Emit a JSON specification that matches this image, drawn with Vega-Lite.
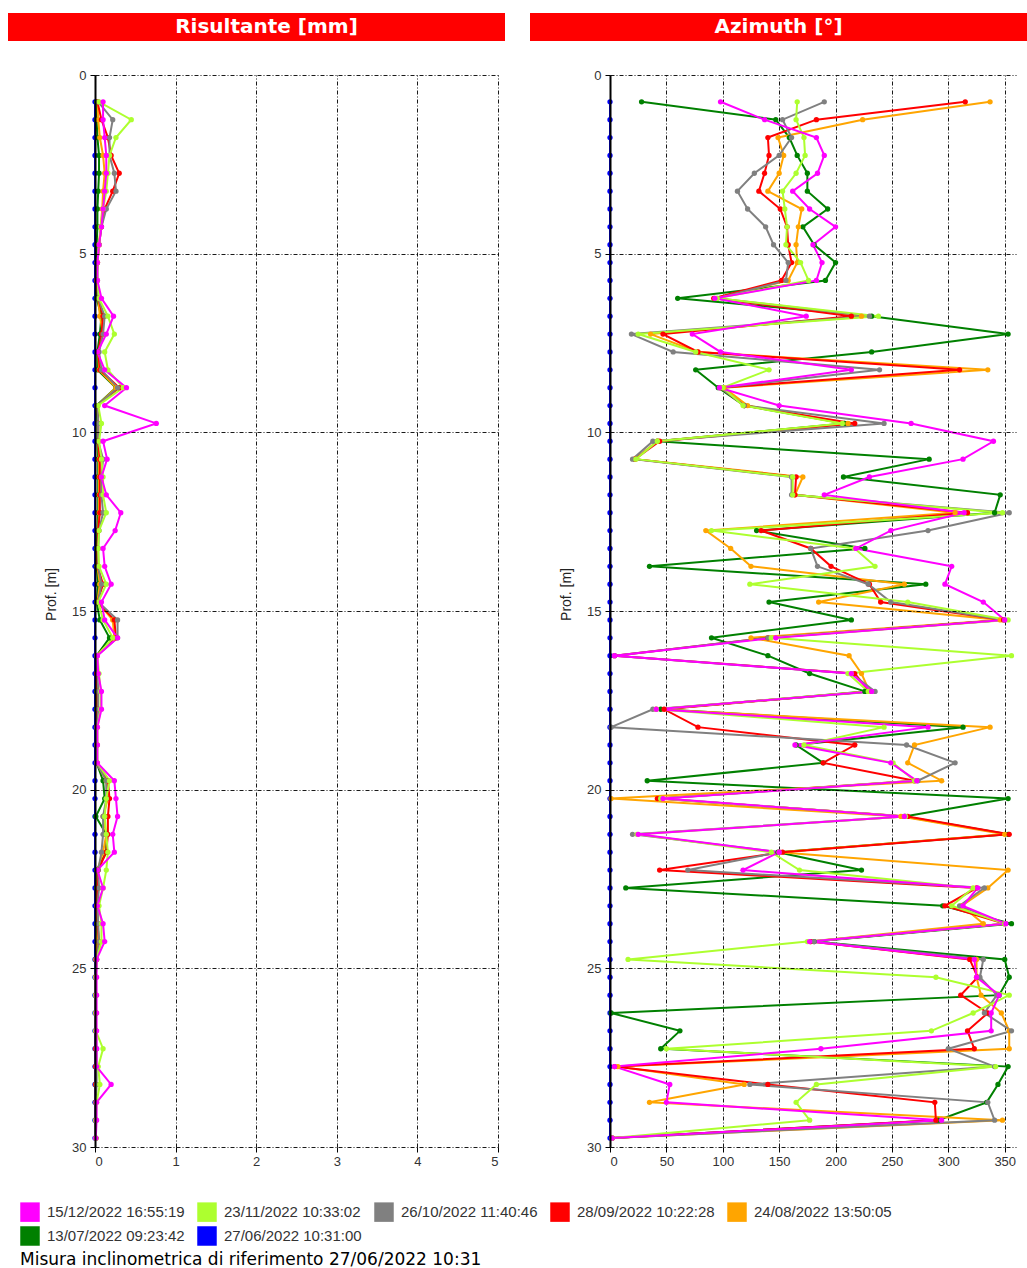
{
"$schema":"https://vega.github.io/schema/vega-lite/v6.json",
"padding":{"left":8,"top":13,"right":0,"bottom":0},
"background":"white",
"config":{
 "view":{"stroke":null},
 "axis":{"grid":true,"gridColor":"#000","gridDash":[4,2,1,2],"gridWidth":1,"gridOpacity":0.9,"tickColor":"#000","tickSize":5,"labelFont":"Liberation Sans","labelFontSize":13,"labelColor":"#333","labelPadding":3,"titleFont":"Liberation Sans","titleFontSize":14,"titleFontWeight":"normal","titleColor":"#222","titlePadding":13,"domainColor":"#000"},
 "axisX":{"domain":false},
 "axisY":{"domain":true,"domainWidth":2,"labelPadding":4},
 "legend":{"symbolOpacity":1}
},
"datasets":{"incl":[
{"s":"27/06/2022 10:31:00","d":0.75,"r":0,"a":0},{"s":"27/06/2022 10:31:00","d":1.25,"r":0,"a":0},{"s":"27/06/2022 10:31:00","d":1.75,"r":0,"a":0},{"s":"27/06/2022 10:31:00","d":2.25,"r":0,"a":0},{"s":"27/06/2022 10:31:00","d":2.75,"r":0,"a":0},{"s":"27/06/2022 10:31:00","d":3.25,"r":0,"a":0},{"s":"27/06/2022 10:31:00","d":3.75,"r":0,"a":0},{"s":"27/06/2022 10:31:00","d":4.25,"r":0,"a":0},{"s":"27/06/2022 10:31:00","d":4.75,"r":0,"a":0},{"s":"27/06/2022 10:31:00","d":5.25,"r":0,"a":0},{"s":"27/06/2022 10:31:00","d":5.75,"r":0,"a":0},{"s":"27/06/2022 10:31:00","d":6.25,"r":0,"a":0},{"s":"27/06/2022 10:31:00","d":6.75,"r":0,"a":0},{"s":"27/06/2022 10:31:00","d":7.25,"r":0,"a":0},{"s":"27/06/2022 10:31:00","d":7.75,"r":0,"a":0},{"s":"27/06/2022 10:31:00","d":8.25,"r":0,"a":0},{"s":"27/06/2022 10:31:00","d":8.75,"r":0,"a":0},{"s":"27/06/2022 10:31:00","d":9.25,"r":0,"a":0},{"s":"27/06/2022 10:31:00","d":9.75,"r":0,"a":0},{"s":"27/06/2022 10:31:00","d":10.25,"r":0,"a":0},{"s":"27/06/2022 10:31:00","d":10.75,"r":0,"a":0},{"s":"27/06/2022 10:31:00","d":11.25,"r":0,"a":0},{"s":"27/06/2022 10:31:00","d":11.75,"r":0,"a":0},{"s":"27/06/2022 10:31:00","d":12.25,"r":0,"a":0},{"s":"27/06/2022 10:31:00","d":12.75,"r":0,"a":0},{"s":"27/06/2022 10:31:00","d":13.25,"r":0,"a":0},{"s":"27/06/2022 10:31:00","d":13.75,"r":0,"a":0},{"s":"27/06/2022 10:31:00","d":14.25,"r":0,"a":0},{"s":"27/06/2022 10:31:00","d":14.75,"r":0,"a":0},{"s":"27/06/2022 10:31:00","d":15.25,"r":0,"a":0},{"s":"27/06/2022 10:31:00","d":15.75,"r":0,"a":0},{"s":"27/06/2022 10:31:00","d":16.25,"r":0,"a":0},{"s":"27/06/2022 10:31:00","d":16.75,"r":0,"a":0},{"s":"27/06/2022 10:31:00","d":17.25,"r":0,"a":0},{"s":"27/06/2022 10:31:00","d":17.75,"r":0,"a":0},{"s":"27/06/2022 10:31:00","d":18.25,"r":0,"a":0},{"s":"27/06/2022 10:31:00","d":18.75,"r":0,"a":0},{"s":"27/06/2022 10:31:00","d":19.25,"r":0,"a":0},{"s":"27/06/2022 10:31:00","d":19.75,"r":0,"a":0},{"s":"27/06/2022 10:31:00","d":20.25,"r":0,"a":0},{"s":"27/06/2022 10:31:00","d":20.75,"r":0,"a":0},{"s":"27/06/2022 10:31:00","d":21.25,"r":0,"a":0},{"s":"27/06/2022 10:31:00","d":21.75,"r":0,"a":0},{"s":"27/06/2022 10:31:00","d":22.25,"r":0,"a":0},{"s":"27/06/2022 10:31:00","d":22.75,"r":0,"a":0},{"s":"27/06/2022 10:31:00","d":23.25,"r":0,"a":0},{"s":"27/06/2022 10:31:00","d":23.75,"r":0,"a":0},{"s":"27/06/2022 10:31:00","d":24.25,"r":0,"a":0},{"s":"27/06/2022 10:31:00","d":24.75,"r":0,"a":0},{"s":"27/06/2022 10:31:00","d":25.25,"r":0,"a":0},{"s":"27/06/2022 10:31:00","d":25.75,"r":0,"a":0},{"s":"27/06/2022 10:31:00","d":26.25,"r":0,"a":0},{"s":"27/06/2022 10:31:00","d":26.75,"r":0,"a":0},{"s":"27/06/2022 10:31:00","d":27.25,"r":0,"a":0},{"s":"27/06/2022 10:31:00","d":27.75,"r":0,"a":0},{"s":"27/06/2022 10:31:00","d":28.25,"r":0,"a":0},{"s":"27/06/2022 10:31:00","d":28.75,"r":0,"a":0},{"s":"27/06/2022 10:31:00","d":29.25,"r":0,"a":0},{"s":"27/06/2022 10:31:00","d":29.75,"r":0,"a":0},
{"s":"13/07/2022 09:23:42","d":0.75,"r":0.02,"a":28},{"s":"13/07/2022 09:23:42","d":1.25,"r":0.02,"a":147},{"s":"13/07/2022 09:23:42","d":1.75,"r":0.03,"a":159},{"s":"13/07/2022 09:23:42","d":2.25,"r":0.05,"a":166},{"s":"13/07/2022 09:23:42","d":2.75,"r":0.05,"a":175},{"s":"13/07/2022 09:23:42","d":3.25,"r":0.04,"a":175},{"s":"13/07/2022 09:23:42","d":3.75,"r":0.03,"a":193},{"s":"13/07/2022 09:23:42","d":4.25,"r":0.03,"a":171},{"s":"13/07/2022 09:23:42","d":4.75,"r":0.02,"a":181},{"s":"13/07/2022 09:23:42","d":5.25,"r":0.02,"a":200},{"s":"13/07/2022 09:23:42","d":5.75,"r":0.02,"a":191},{"s":"13/07/2022 09:23:42","d":6.25,"r":0.02,"a":60},{"s":"13/07/2022 09:23:42","d":6.75,"r":0.08,"a":232},{"s":"13/07/2022 09:23:42","d":7.25,"r":0.06,"a":353},{"s":"13/07/2022 09:23:42","d":7.75,"r":0.03,"a":232},{"s":"13/07/2022 09:23:42","d":8.25,"r":0.03,"a":76},{"s":"13/07/2022 09:23:42","d":8.75,"r":0.26,"a":96},{"s":"13/07/2022 09:23:42","d":9.25,"r":0.02,"a":119},{"s":"13/07/2022 09:23:42","d":9.75,"r":0.03,"a":208},{"s":"13/07/2022 09:23:42","d":10.25,"r":0.03,"a":42},{"s":"13/07/2022 09:23:42","d":10.75,"r":0.04,"a":283},{"s":"13/07/2022 09:23:42","d":11.25,"r":0.04,"a":207},{"s":"13/07/2022 09:23:42","d":11.75,"r":0.04,"a":346},{"s":"13/07/2022 09:23:42","d":12.25,"r":0.04,"a":341},{"s":"13/07/2022 09:23:42","d":12.75,"r":0.03,"a":130},{"s":"13/07/2022 09:23:42","d":13.25,"r":0.02,"a":226},{"s":"13/07/2022 09:23:42","d":13.75,"r":0.02,"a":35},{"s":"13/07/2022 09:23:42","d":14.25,"r":0.04,"a":280},{"s":"13/07/2022 09:23:42","d":14.75,"r":0.02,"a":141},{"s":"13/07/2022 09:23:42","d":15.25,"r":0.06,"a":214},{"s":"13/07/2022 09:23:42","d":15.75,"r":0.18,"a":90},{"s":"13/07/2022 09:23:42","d":16.25,"r":0.02,"a":140},{"s":"13/07/2022 09:23:42","d":16.75,"r":0.02,"a":177},{"s":"13/07/2022 09:23:42","d":17.25,"r":0.02,"a":226},{"s":"13/07/2022 09:23:42","d":17.75,"r":0.02,"a":45},{"s":"13/07/2022 09:23:42","d":18.25,"r":0.02,"a":313},{"s":"13/07/2022 09:23:42","d":18.75,"r":0.02,"a":165},{"s":"13/07/2022 09:23:42","d":19.25,"r":0.02,"a":189},{"s":"13/07/2022 09:23:42","d":19.75,"r":0.1,"a":33},{"s":"13/07/2022 09:23:42","d":20.25,"r":0.12,"a":353},{"s":"13/07/2022 09:23:42","d":20.75,"r":0.01,"a":261},{"s":"13/07/2022 09:23:42","d":21.25,"r":0.14,"a":353},{"s":"13/07/2022 09:23:42","d":21.75,"r":0.14,"a":149},{"s":"13/07/2022 09:23:42","d":22.25,"r":0.02,"a":223},{"s":"13/07/2022 09:23:42","d":22.75,"r":0.02,"a":14},{"s":"13/07/2022 09:23:42","d":23.25,"r":0.02,"a":295},{"s":"13/07/2022 09:23:42","d":23.75,"r":0.02,"a":356},{"s":"13/07/2022 09:23:42","d":24.25,"r":0.03,"a":181},{"s":"13/07/2022 09:23:42","d":24.75,"r":0.01,"a":350},{"s":"13/07/2022 09:23:42","d":25.25,"r":0.01,"a":354},{"s":"13/07/2022 09:23:42","d":25.75,"r":0.01,"a":345},{"s":"13/07/2022 09:23:42","d":26.25,"r":0.01,"a":1},{"s":"13/07/2022 09:23:42","d":26.75,"r":0.01,"a":62},{"s":"13/07/2022 09:23:42","d":27.25,"r":0.01,"a":45},{"s":"13/07/2022 09:23:42","d":27.75,"r":0.01,"a":353},{"s":"13/07/2022 09:23:42","d":28.25,"r":0.01,"a":344},{"s":"13/07/2022 09:23:42","d":28.75,"r":0.01,"a":334},{"s":"13/07/2022 09:23:42","d":29.25,"r":0.01,"a":291},{"s":"13/07/2022 09:23:42","d":29.75,"r":0.01,"a":2},
{"s":"24/08/2022 13:50:05","d":0.75,"r":0.03,"a":337},{"s":"24/08/2022 13:50:05","d":1.25,"r":0.04,"a":224},{"s":"24/08/2022 13:50:05","d":1.75,"r":0.06,"a":149},{"s":"24/08/2022 13:50:05","d":2.25,"r":0.1,"a":154},{"s":"24/08/2022 13:50:05","d":2.75,"r":0.12,"a":150},{"s":"24/08/2022 13:50:05","d":3.25,"r":0.1,"a":140},{"s":"24/08/2022 13:50:05","d":3.75,"r":0.09,"a":170},{"s":"24/08/2022 13:50:05","d":4.25,"r":0.07,"a":167},{"s":"24/08/2022 13:50:05","d":4.75,"r":0.05,"a":165},{"s":"24/08/2022 13:50:05","d":5.25,"r":0.03,"a":166},{"s":"24/08/2022 13:50:05","d":5.75,"r":0.02,"a":158},{"s":"24/08/2022 13:50:05","d":6.25,"r":0.04,"a":93},{"s":"24/08/2022 13:50:05","d":6.75,"r":0.06,"a":223},{"s":"24/08/2022 13:50:05","d":7.25,"r":0.1,"a":36},{"s":"24/08/2022 13:50:05","d":7.75,"r":0.04,"a":78},{"s":"24/08/2022 13:50:05","d":8.25,"r":0.05,"a":335},{"s":"24/08/2022 13:50:05","d":8.75,"r":0.26,"a":101},{"s":"24/08/2022 13:50:05","d":9.25,"r":0.03,"a":122},{"s":"24/08/2022 13:50:05","d":9.75,"r":0.04,"a":211},{"s":"24/08/2022 13:50:05","d":10.25,"r":0.04,"a":42},{"s":"24/08/2022 13:50:05","d":10.75,"r":0.05,"a":22},{"s":"24/08/2022 13:50:05","d":11.25,"r":0.05,"a":171},{"s":"24/08/2022 13:50:05","d":11.75,"r":0.05,"a":164},{"s":"24/08/2022 13:50:05","d":12.25,"r":0.05,"a":306},{"s":"24/08/2022 13:50:05","d":12.75,"r":0.04,"a":85},{"s":"24/08/2022 13:50:05","d":13.25,"r":0.03,"a":107},{"s":"24/08/2022 13:50:05","d":13.75,"r":0.03,"a":125},{"s":"24/08/2022 13:50:05","d":14.25,"r":0.06,"a":261},{"s":"24/08/2022 13:50:05","d":14.75,"r":0.03,"a":185},{"s":"24/08/2022 13:50:05","d":15.25,"r":0.22,"a":346},{"s":"24/08/2022 13:50:05","d":15.75,"r":0.24,"a":125},{"s":"24/08/2022 13:50:05","d":16.25,"r":0.02,"a":212},{"s":"24/08/2022 13:50:05","d":16.75,"r":0.02,"a":223},{"s":"24/08/2022 13:50:05","d":17.25,"r":0.03,"a":230},{"s":"24/08/2022 13:50:05","d":17.75,"r":0.03,"a":41},{"s":"24/08/2022 13:50:05","d":18.25,"r":0.02,"a":337},{"s":"24/08/2022 13:50:05","d":18.75,"r":0.02,"a":270},{"s":"24/08/2022 13:50:05","d":19.25,"r":0.02,"a":264},{"s":"24/08/2022 13:50:05","d":19.75,"r":0.14,"a":294},{"s":"24/08/2022 13:50:05","d":20.25,"r":0.16,"a":1},{"s":"24/08/2022 13:50:05","d":20.75,"r":0.1,"a":258},{"s":"24/08/2022 13:50:05","d":21.25,"r":0.14,"a":350},{"s":"24/08/2022 13:50:05","d":21.75,"r":0.1,"a":150},{"s":"24/08/2022 13:50:05","d":22.25,"r":0.03,"a":353},{"s":"24/08/2022 13:50:05","d":22.75,"r":0.03,"a":335},{"s":"24/08/2022 13:50:05","d":23.25,"r":0.02,"a":312},{"s":"24/08/2022 13:50:05","d":23.75,"r":0.03,"a":331},{"s":"24/08/2022 13:50:05","d":24.25,"r":0.03,"a":178},{"s":"24/08/2022 13:50:05","d":24.75,"r":0.01,"a":325},{"s":"24/08/2022 13:50:05","d":25.25,"r":0.01,"a":325},{"s":"24/08/2022 13:50:05","d":25.75,"r":0.01,"a":329},{"s":"24/08/2022 13:50:05","d":26.25,"r":0.01,"a":347},{"s":"24/08/2022 13:50:05","d":26.75,"r":0.01,"a":354},{"s":"24/08/2022 13:50:05","d":27.25,"r":0.01,"a":354},{"s":"24/08/2022 13:50:05","d":27.75,"r":0.01,"a":7},{"s":"24/08/2022 13:50:05","d":28.25,"r":0.01,"a":119},{"s":"24/08/2022 13:50:05","d":28.75,"r":0.01,"a":35},{"s":"24/08/2022 13:50:05","d":29.25,"r":0.01,"a":348},{"s":"24/08/2022 13:50:05","d":29.75,"r":0.01,"a":2},
{"s":"28/09/2022 10:22:28","d":0.75,"r":0.03,"a":315},{"s":"28/09/2022 10:22:28","d":1.25,"r":0.08,"a":183},{"s":"28/09/2022 10:22:28","d":1.75,"r":0.16,"a":140},{"s":"28/09/2022 10:22:28","d":2.25,"r":0.2,"a":141},{"s":"28/09/2022 10:22:28","d":2.75,"r":0.3,"a":137},{"s":"28/09/2022 10:22:28","d":3.25,"r":0.22,"a":132},{"s":"28/09/2022 10:22:28","d":3.75,"r":0.12,"a":151},{"s":"28/09/2022 10:22:28","d":4.25,"r":0.08,"a":157},{"s":"28/09/2022 10:22:28","d":4.75,"r":0.05,"a":158},{"s":"28/09/2022 10:22:28","d":5.25,"r":0.03,"a":161},{"s":"28/09/2022 10:22:28","d":5.75,"r":0.02,"a":152},{"s":"28/09/2022 10:22:28","d":6.25,"r":0.04,"a":92},{"s":"28/09/2022 10:22:28","d":6.75,"r":0.1,"a":214},{"s":"28/09/2022 10:22:28","d":7.25,"r":0.08,"a":47},{"s":"28/09/2022 10:22:28","d":7.75,"r":0.04,"a":78},{"s":"28/09/2022 10:22:28","d":8.25,"r":0.06,"a":310},{"s":"28/09/2022 10:22:28","d":8.75,"r":0.3,"a":98},{"s":"28/09/2022 10:22:28","d":9.25,"r":0.03,"a":119},{"s":"28/09/2022 10:22:28","d":9.75,"r":0.04,"a":217},{"s":"28/09/2022 10:22:28","d":10.25,"r":0.04,"a":44},{"s":"28/09/2022 10:22:28","d":10.75,"r":0.06,"a":22},{"s":"28/09/2022 10:22:28","d":11.25,"r":0.06,"a":165},{"s":"28/09/2022 10:22:28","d":11.75,"r":0.06,"a":164},{"s":"28/09/2022 10:22:28","d":12.25,"r":0.06,"a":317},{"s":"28/09/2022 10:22:28","d":12.75,"r":0.04,"a":134},{"s":"28/09/2022 10:22:28","d":13.25,"r":0.03,"a":178},{"s":"28/09/2022 10:22:28","d":13.75,"r":0.03,"a":196},{"s":"28/09/2022 10:22:28","d":14.25,"r":0.1,"a":230},{"s":"28/09/2022 10:22:28","d":14.75,"r":0.03,"a":240},{"s":"28/09/2022 10:22:28","d":15.25,"r":0.24,"a":349},{"s":"28/09/2022 10:22:28","d":15.75,"r":0.26,"a":140},{"s":"28/09/2022 10:22:28","d":16.25,"r":0.02,"a":4},{"s":"28/09/2022 10:22:28","d":16.75,"r":0.02,"a":217},{"s":"28/09/2022 10:22:28","d":17.25,"r":0.03,"a":230},{"s":"28/09/2022 10:22:28","d":17.75,"r":0.03,"a":48},{"s":"28/09/2022 10:22:28","d":18.25,"r":0.02,"a":78},{"s":"28/09/2022 10:22:28","d":18.75,"r":0.02,"a":217},{"s":"28/09/2022 10:22:28","d":19.25,"r":0.02,"a":189},{"s":"28/09/2022 10:22:28","d":19.75,"r":0.16,"a":270},{"s":"28/09/2022 10:22:28","d":20.25,"r":0.18,"a":42},{"s":"28/09/2022 10:22:28","d":20.75,"r":0.16,"a":264},{"s":"28/09/2022 10:22:28","d":21.25,"r":0.16,"a":354},{"s":"28/09/2022 10:22:28","d":21.75,"r":0.14,"a":153},{"s":"28/09/2022 10:22:28","d":22.25,"r":0.04,"a":44},{"s":"28/09/2022 10:22:28","d":22.75,"r":0.03,"a":325},{"s":"28/09/2022 10:22:28","d":23.25,"r":0.03,"a":297},{"s":"28/09/2022 10:22:28","d":23.75,"r":0.03,"a":350},{"s":"28/09/2022 10:22:28","d":24.25,"r":0.05,"a":178},{"s":"28/09/2022 10:22:28","d":24.75,"r":0.02,"a":319},{"s":"28/09/2022 10:22:28","d":25.25,"r":0.01,"a":326},{"s":"28/09/2022 10:22:28","d":25.75,"r":0.01,"a":311},{"s":"28/09/2022 10:22:28","d":26.25,"r":0.01,"a":335},{"s":"28/09/2022 10:22:28","d":26.75,"r":0.01,"a":317},{"s":"28/09/2022 10:22:28","d":27.25,"r":0.01,"a":323},{"s":"28/09/2022 10:22:28","d":27.75,"r":0.01,"a":4},{"s":"28/09/2022 10:22:28","d":28.25,"r":0.01,"a":140},{"s":"28/09/2022 10:22:28","d":28.75,"r":0.01,"a":288},{"s":"28/09/2022 10:22:28","d":29.25,"r":0.01,"a":289},{"s":"28/09/2022 10:22:28","d":29.75,"r":0.01,"a":2},
{"s":"26/10/2022 11:40:46","d":0.75,"r":0.04,"a":190},{"s":"26/10/2022 11:40:46","d":1.25,"r":0.22,"a":153},{"s":"26/10/2022 11:40:46","d":1.75,"r":0.18,"a":161},{"s":"26/10/2022 11:40:46","d":2.25,"r":0.18,"a":150},{"s":"26/10/2022 11:40:46","d":2.75,"r":0.24,"a":128},{"s":"26/10/2022 11:40:46","d":3.25,"r":0.26,"a":113},{"s":"26/10/2022 11:40:46","d":3.75,"r":0.14,"a":122},{"s":"26/10/2022 11:40:46","d":4.25,"r":0.08,"a":138},{"s":"26/10/2022 11:40:46","d":4.75,"r":0.05,"a":145},{"s":"26/10/2022 11:40:46","d":5.25,"r":0.03,"a":158},{"s":"26/10/2022 11:40:46","d":5.75,"r":0.03,"a":156},{"s":"26/10/2022 11:40:46","d":6.25,"r":0.04,"a":95},{"s":"26/10/2022 11:40:46","d":6.75,"r":0.12,"a":230},{"s":"26/10/2022 11:40:46","d":7.25,"r":0.1,"a":19},{"s":"26/10/2022 11:40:46","d":7.75,"r":0.05,"a":56},{"s":"26/10/2022 11:40:46","d":8.25,"r":0.08,"a":239},{"s":"26/10/2022 11:40:46","d":8.75,"r":0.28,"a":98},{"s":"26/10/2022 11:40:46","d":9.25,"r":0.03,"a":119},{"s":"26/10/2022 11:40:46","d":9.75,"r":0.04,"a":243},{"s":"26/10/2022 11:40:46","d":10.25,"r":0.04,"a":38},{"s":"26/10/2022 11:40:46","d":10.75,"r":0.1,"a":20},{"s":"26/10/2022 11:40:46","d":11.25,"r":0.08,"a":161},{"s":"26/10/2022 11:40:46","d":11.75,"r":0.08,"a":161},{"s":"26/10/2022 11:40:46","d":12.25,"r":0.1,"a":354},{"s":"26/10/2022 11:40:46","d":12.75,"r":0.05,"a":282},{"s":"26/10/2022 11:40:46","d":13.25,"r":0.04,"a":178},{"s":"26/10/2022 11:40:46","d":13.75,"r":0.04,"a":184},{"s":"26/10/2022 11:40:46","d":14.25,"r":0.08,"a":229},{"s":"26/10/2022 11:40:46","d":14.75,"r":0.04,"a":249},{"s":"26/10/2022 11:40:46","d":15.25,"r":0.28,"a":350},{"s":"26/10/2022 11:40:46","d":15.75,"r":0.28,"a":140},{"s":"26/10/2022 11:40:46","d":16.25,"r":0.02,"a":4},{"s":"26/10/2022 11:40:46","d":16.75,"r":0.03,"a":214},{"s":"26/10/2022 11:40:46","d":17.25,"r":0.04,"a":235},{"s":"26/10/2022 11:40:46","d":17.75,"r":0.04,"a":38},{"s":"26/10/2022 11:40:46","d":18.25,"r":0.02,"a":1},{"s":"26/10/2022 11:40:46","d":18.75,"r":0.02,"a":263},{"s":"26/10/2022 11:40:46","d":19.25,"r":0.02,"a":306},{"s":"26/10/2022 11:40:46","d":19.75,"r":0.14,"a":273},{"s":"26/10/2022 11:40:46","d":20.25,"r":0.14,"a":45},{"s":"26/10/2022 11:40:46","d":20.75,"r":0.1,"a":262},{"s":"26/10/2022 11:40:46","d":21.25,"r":0.1,"a":20},{"s":"26/10/2022 11:40:46","d":21.75,"r":0.08,"a":150},{"s":"26/10/2022 11:40:46","d":22.25,"r":0.04,"a":69},{"s":"26/10/2022 11:40:46","d":22.75,"r":0.05,"a":332},{"s":"26/10/2022 11:40:46","d":23.25,"r":0.03,"a":310},{"s":"26/10/2022 11:40:46","d":23.75,"r":0.04,"a":350},{"s":"26/10/2022 11:40:46","d":24.25,"r":0.05,"a":181},{"s":"26/10/2022 11:40:46","d":24.75,"r":0.02,"a":331},{"s":"26/10/2022 11:40:46","d":25.25,"r":0.01,"a":328},{"s":"26/10/2022 11:40:46","d":25.75,"r":0.01,"a":343},{"s":"26/10/2022 11:40:46","d":26.25,"r":0.01,"a":332},{"s":"26/10/2022 11:40:46","d":26.75,"r":0.01,"a":356},{"s":"26/10/2022 11:40:46","d":27.25,"r":0.02,"a":300},{"s":"26/10/2022 11:40:46","d":27.75,"r":0.02,"a":341},{"s":"26/10/2022 11:40:46","d":28.25,"r":0.02,"a":124},{"s":"26/10/2022 11:40:46","d":28.75,"r":0.01,"a":335},{"s":"26/10/2022 11:40:46","d":29.25,"r":0.01,"a":341},{"s":"26/10/2022 11:40:46","d":29.75,"r":0.01,"a":2},
{"s":"23/11/2022 10:33:02","d":0.75,"r":0.05,"a":166},{"s":"23/11/2022 10:33:02","d":1.25,"r":0.45,"a":165},{"s":"23/11/2022 10:33:02","d":1.75,"r":0.26,"a":172},{"s":"23/11/2022 10:33:02","d":2.25,"r":0.18,"a":173},{"s":"23/11/2022 10:33:02","d":2.75,"r":0.16,"a":165},{"s":"23/11/2022 10:33:02","d":3.25,"r":0.14,"a":153},{"s":"23/11/2022 10:33:02","d":3.75,"r":0.1,"a":155},{"s":"23/11/2022 10:33:02","d":4.25,"r":0.07,"a":157},{"s":"23/11/2022 10:33:02","d":4.75,"r":0.05,"a":156},{"s":"23/11/2022 10:33:02","d":5.25,"r":0.03,"a":169},{"s":"23/11/2022 10:33:02","d":5.75,"r":0.03,"a":176},{"s":"23/11/2022 10:33:02","d":6.25,"r":0.05,"a":95},{"s":"23/11/2022 10:33:02","d":6.75,"r":0.16,"a":238},{"s":"23/11/2022 10:33:02","d":7.25,"r":0.24,"a":25},{"s":"23/11/2022 10:33:02","d":7.75,"r":0.12,"a":76},{"s":"23/11/2022 10:33:02","d":8.25,"r":0.16,"a":141},{"s":"23/11/2022 10:33:02","d":8.75,"r":0.35,"a":100},{"s":"23/11/2022 10:33:02","d":9.25,"r":0.04,"a":118},{"s":"23/11/2022 10:33:02","d":9.75,"r":0.08,"a":206},{"s":"23/11/2022 10:33:02","d":10.25,"r":0.05,"a":42},{"s":"23/11/2022 10:33:02","d":10.75,"r":0.08,"a":23},{"s":"23/11/2022 10:33:02","d":11.25,"r":0.1,"a":162},{"s":"23/11/2022 10:33:02","d":11.75,"r":0.1,"a":162},{"s":"23/11/2022 10:33:02","d":12.25,"r":0.14,"a":348},{"s":"23/11/2022 10:33:02","d":12.75,"r":0.05,"a":90},{"s":"23/11/2022 10:33:02","d":13.25,"r":0.04,"a":217},{"s":"23/11/2022 10:33:02","d":13.75,"r":0.05,"a":235},{"s":"23/11/2022 10:33:02","d":14.25,"r":0.14,"a":124},{"s":"23/11/2022 10:33:02","d":14.75,"r":0.04,"a":264},{"s":"23/11/2022 10:33:02","d":15.25,"r":0.1,"a":353},{"s":"23/11/2022 10:33:02","d":15.75,"r":0.22,"a":143},{"s":"23/11/2022 10:33:02","d":16.25,"r":0.03,"a":356},{"s":"23/11/2022 10:33:02","d":16.75,"r":0.05,"a":211},{"s":"23/11/2022 10:33:02","d":17.25,"r":0.07,"a":229},{"s":"23/11/2022 10:33:02","d":17.75,"r":0.07,"a":41},{"s":"23/11/2022 10:33:02","d":18.25,"r":0.03,"a":243},{"s":"23/11/2022 10:33:02","d":18.75,"r":0.03,"a":172},{"s":"23/11/2022 10:33:02","d":19.25,"r":0.03,"a":251},{"s":"23/11/2022 10:33:02","d":19.75,"r":0.18,"a":270},{"s":"23/11/2022 10:33:02","d":20.25,"r":0.14,"a":45},{"s":"23/11/2022 10:33:02","d":20.75,"r":0.12,"a":262},{"s":"23/11/2022 10:33:02","d":21.25,"r":0.14,"a":24},{"s":"23/11/2022 10:33:02","d":21.75,"r":0.16,"a":143},{"s":"23/11/2022 10:33:02","d":22.25,"r":0.14,"a":168},{"s":"23/11/2022 10:33:02","d":22.75,"r":0.1,"a":322},{"s":"23/11/2022 10:33:02","d":23.25,"r":0.05,"a":303},{"s":"23/11/2022 10:33:02","d":23.75,"r":0.08,"a":350},{"s":"23/11/2022 10:33:02","d":24.25,"r":0.08,"a":175},{"s":"23/11/2022 10:33:02","d":24.75,"r":0.02,"a":16},{"s":"23/11/2022 10:33:02","d":25.25,"r":0.01,"a":289},{"s":"23/11/2022 10:33:02","d":25.75,"r":0.01,"a":354},{"s":"23/11/2022 10:33:02","d":26.25,"r":0.01,"a":322},{"s":"23/11/2022 10:33:02","d":26.75,"r":0.01,"a":285},{"s":"23/11/2022 10:33:02","d":27.25,"r":0.1,"a":50},{"s":"23/11/2022 10:33:02","d":27.75,"r":0.04,"a":342},{"s":"23/11/2022 10:33:02","d":28.25,"r":0.06,"a":183},{"s":"23/11/2022 10:33:02","d":28.75,"r":0.02,"a":165},{"s":"23/11/2022 10:33:02","d":29.25,"r":0.01,"a":177},{"s":"23/11/2022 10:33:02","d":29.75,"r":0.01,"a":2},
{"s":"15/12/2022 16:55:19","d":0.75,"r":0.1,"a":98},{"s":"15/12/2022 16:55:19","d":1.25,"r":0.1,"a":137},{"s":"15/12/2022 16:55:19","d":1.75,"r":0.12,"a":183},{"s":"15/12/2022 16:55:19","d":2.25,"r":0.14,"a":190},{"s":"15/12/2022 16:55:19","d":2.75,"r":0.14,"a":184},{"s":"15/12/2022 16:55:19","d":3.25,"r":0.12,"a":162},{"s":"15/12/2022 16:55:19","d":3.75,"r":0.1,"a":177},{"s":"15/12/2022 16:55:19","d":4.25,"r":0.08,"a":200},{"s":"15/12/2022 16:55:19","d":4.75,"r":0.05,"a":180},{"s":"15/12/2022 16:55:19","d":5.25,"r":0.03,"a":188},{"s":"15/12/2022 16:55:19","d":5.75,"r":0.03,"a":183},{"s":"15/12/2022 16:55:19","d":6.25,"r":0.08,"a":93},{"s":"15/12/2022 16:55:19","d":6.75,"r":0.23,"a":174},{"s":"15/12/2022 16:55:19","d":7.25,"r":0.14,"a":73},{"s":"15/12/2022 16:55:19","d":7.75,"r":0.03,"a":98},{"s":"15/12/2022 16:55:19","d":8.25,"r":0.12,"a":214},{"s":"15/12/2022 16:55:19","d":8.75,"r":0.39,"a":97},{"s":"15/12/2022 16:55:19","d":9.25,"r":0.12,"a":150},{"s":"15/12/2022 16:55:19","d":9.75,"r":0.76,"a":267},{"s":"15/12/2022 16:55:19","d":10.25,"r":0.1,"a":340},{"s":"15/12/2022 16:55:19","d":10.75,"r":0.15,"a":313},{"s":"15/12/2022 16:55:19","d":11.25,"r":0.08,"a":230},{"s":"15/12/2022 16:55:19","d":11.75,"r":0.14,"a":190},{"s":"15/12/2022 16:55:19","d":12.25,"r":0.32,"a":314},{"s":"15/12/2022 16:55:19","d":12.75,"r":0.25,"a":249},{"s":"15/12/2022 16:55:19","d":13.25,"r":0.1,"a":218},{"s":"15/12/2022 16:55:19","d":13.75,"r":0.12,"a":303},{"s":"15/12/2022 16:55:19","d":14.25,"r":0.2,"a":297},{"s":"15/12/2022 16:55:19","d":14.75,"r":0.08,"a":331},{"s":"15/12/2022 16:55:19","d":15.25,"r":0.12,"a":350},{"s":"15/12/2022 16:55:19","d":15.75,"r":0.28,"a":147},{"s":"15/12/2022 16:55:19","d":16.25,"r":0.03,"a":4},{"s":"15/12/2022 16:55:19","d":16.75,"r":0.04,"a":214},{"s":"15/12/2022 16:55:19","d":17.25,"r":0.08,"a":232},{"s":"15/12/2022 16:55:19","d":17.75,"r":0.08,"a":41},{"s":"15/12/2022 16:55:19","d":18.25,"r":0.03,"a":282},{"s":"15/12/2022 16:55:19","d":18.75,"r":0.03,"a":164},{"s":"15/12/2022 16:55:19","d":19.25,"r":0.03,"a":249},{"s":"15/12/2022 16:55:19","d":19.75,"r":0.24,"a":272},{"s":"15/12/2022 16:55:19","d":20.25,"r":0.26,"a":47},{"s":"15/12/2022 16:55:19","d":20.75,"r":0.28,"a":261},{"s":"15/12/2022 16:55:19","d":21.25,"r":0.22,"a":25},{"s":"15/12/2022 16:55:19","d":21.75,"r":0.24,"a":150},{"s":"15/12/2022 16:55:19","d":22.25,"r":0.03,"a":118},{"s":"15/12/2022 16:55:19","d":22.75,"r":0.1,"a":326},{"s":"15/12/2022 16:55:19","d":23.25,"r":0.03,"a":313},{"s":"15/12/2022 16:55:19","d":23.75,"r":0.1,"a":351},{"s":"15/12/2022 16:55:19","d":24.25,"r":0.12,"a":177},{"s":"15/12/2022 16:55:19","d":24.75,"r":0.02,"a":323},{"s":"15/12/2022 16:55:19","d":25.25,"r":0.02,"a":325},{"s":"15/12/2022 16:55:19","d":25.75,"r":0.02,"a":345},{"s":"15/12/2022 16:55:19","d":26.25,"r":0.02,"a":338},{"s":"15/12/2022 16:55:19","d":26.75,"r":0.02,"a":338},{"s":"15/12/2022 16:55:19","d":27.25,"r":0.02,"a":187},{"s":"15/12/2022 16:55:19","d":27.75,"r":0.02,"a":4},{"s":"15/12/2022 16:55:19","d":28.25,"r":0.2,"a":53},{"s":"15/12/2022 16:55:19","d":28.75,"r":0.02,"a":50},{"s":"15/12/2022 16:55:19","d":29.25,"r":0.02,"a":294},{"s":"15/12/2022 16:55:19","d":29.75,"r":0.01,"a":2}
]},
"spacing":28,
"vconcat":[
 {"hconcat":[
  {"width":497,"height":28,"view":{"fill":"#ff0000","stroke":null},"data":{"values":[{"t":"Risultante [mm]"}]},
   "mark":{"type":"text","color":"white","font":"DejaVu Sans","fontSize":20,"fontWeight":"bold","baseline":"middle","align":"center","dx":10},
   "encoding":{"text":{"field":"t","type":"nominal"}}},
  {"width":497,"height":28,"view":{"fill":"#ff0000","stroke":null},"data":{"values":[{"t":"Azimuth [°]"}]},
   "mark":{"type":"text","color":"white","font":"DejaVu Sans","fontSize":20,"fontWeight":"bold","baseline":"middle","align":"center"},
   "encoding":{"text":{"field":"t","type":"nominal"}}}
 ],"spacing":25},
 {"hconcat":[
  {"width":1,"height":1,"data":{"values":[]},"mark":{"type":"point","opacity":0}},
  {"hconcat":[
  {"width":403,"height":1072,"data":{"name":"incl"},
   "encoding":{
    "y":{"field":"d","type":"quantitative","scale":{"domain":[0,30],"reverse":true,"nice":false,"zero":false},"axis":{"values":[0,5,10,15,20,25,30],"title":"Prof. [m]","titleY":519,"zindex":1}},
    "x":{"field":"r","type":"quantitative","scale":{"domain":[0,5],"nice":false},"axis":{"values":[0,1,2,3,4,5],"title":null}},
    "color":{"field":"s","type":"nominal",
     "scale":{"domain":["15/12/2022 16:55:19","23/11/2022 10:33:02","26/10/2022 11:40:46","28/09/2022 10:22:28","24/08/2022 13:50:05","13/07/2022 09:23:42","27/06/2022 10:31:00"],"range":["#ff00ff","#adff2f","#808080","#ff0000","#ffa500","#008000","#0000ff"]},
     "legend":{"orient":"none","legendX":12,"legendY":1189,"direction":"horizontal","columns":5,"symbolType":"square","symbolSize":380,"symbolStrokeWidth":0,"labelFont":"Liberation Sans","labelFontSize":15,"labelColor":"#333","labelOffset":7,"labelLimit":300,"columnPadding":12,"rowPadding":4,"padding":0,"title":"Misura inclinometrica di riferimento 27/06/2022 10:31","titleOrient":"bottom","titleAnchor":"start","titleFont":"DejaVu Sans","titleFontSize":17,"titleFontWeight":"normal","titleColor":"#000","titleLimit":1000,"titlePadding":6}}
   },
   "layer":[
    {"mark":{"type":"line","strokeWidth":2,"opacity":1},"encoding":{"order":{"field":"d","type":"quantitative"}}},
    {"mark":{"type":"point","filled":true,"size":28,"opacity":1}}
   ]},
  {"width":406,"height":1072,"data":{"name":"incl"},
   "encoding":{
    "y":{"field":"d","type":"quantitative","scale":{"domain":[0,30],"reverse":true,"nice":false,"zero":false},"axis":{"values":[0,5,10,15,20,25,30],"title":"Prof. [m]","titleY":519,"zindex":1}},
    "x":{"field":"a","type":"quantitative","scale":{"domain":[0,360],"nice":false},"axis":{"values":[0,50,100,150,200,250,300,350],"title":null}},
    "color":{"field":"s","type":"nominal",
     "scale":{"domain":["15/12/2022 16:55:19","23/11/2022 10:33:02","26/10/2022 11:40:46","28/09/2022 10:22:28","24/08/2022 13:50:05","13/07/2022 09:23:42","27/06/2022 10:31:00"],"range":["#ff00ff","#adff2f","#808080","#ff0000","#ffa500","#008000","#0000ff"]},
     "legend":{"orient":"none","legendX":12,"legendY":1189,"direction":"horizontal","columns":5,"symbolType":"square","symbolSize":380,"symbolStrokeWidth":0,"labelFont":"Liberation Sans","labelFontSize":15,"labelColor":"#333","labelOffset":7,"labelLimit":300,"columnPadding":12,"rowPadding":4,"padding":0,"title":"Misura inclinometrica di riferimento 27/06/2022 10:31","titleOrient":"bottom","titleAnchor":"start","titleFont":"DejaVu Sans","titleFontSize":17,"titleFontWeight":"normal","titleColor":"#000","titleLimit":1000,"titlePadding":6}}
   },
   "layer":[
    {"mark":{"type":"line","strokeWidth":2,"opacity":1},"encoding":{"order":{"field":"d","type":"quantitative"}}},
    {"mark":{"type":"point","filled":true,"size":28,"opacity":1}}
   ]}
  ],"spacing":60}
 ],"spacing":35}
]
}
